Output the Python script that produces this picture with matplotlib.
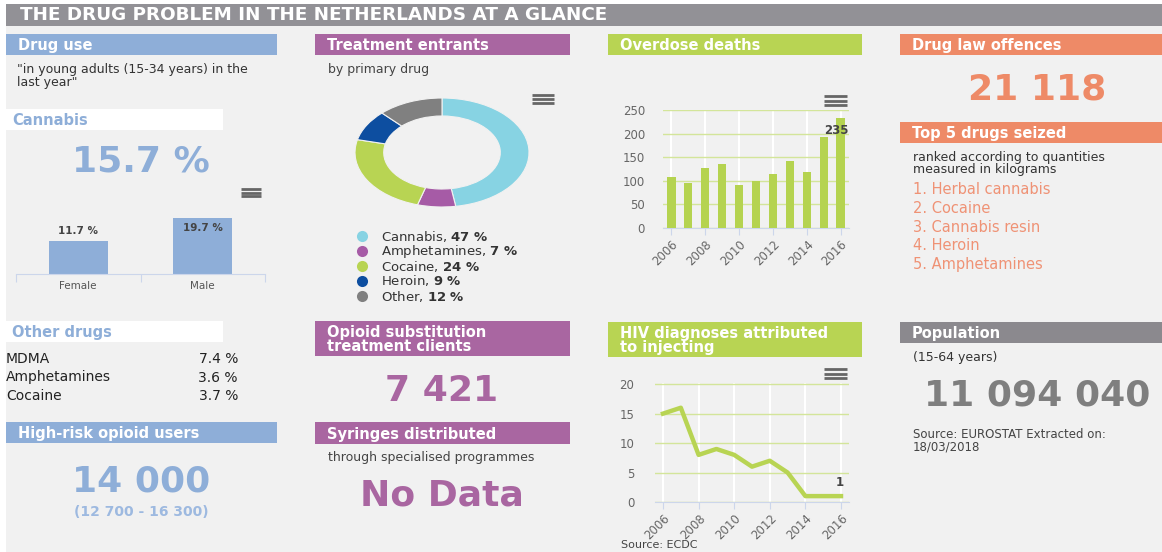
import numpy as np
import matplotlib
matplotlib.use("Agg")
import matplotlib.pyplot as plt
from matplotlib.patches import Rectangle

plt.rcParams['font.family'] = ['DejaVu Sans']

W, H = 1162, 552

title = "THE DRUG PROBLEM IN THE NETHERLANDS AT A GLANCE"
cannabis_total = "15.7 %"
gender_labels = ["Female", "Male"]
gender_values = [11.7, 19.7]
other_drugs = ["MDMA", "Amphetamines", "Cocaine"]
other_values = [7.4, 3.6, 3.7]
opioid_users = "14 000"
opioid_range = "(12 700 - 16 300)"
treat_labels = ["Cannabis", "Amphetamines", "Cocaine", "Heroin", "Other"]
treat_values = [47, 7, 24, 9, 12]
ost_clients = "7 421"
syringes = "No Data"
od_years = list(range(2006, 2017))
od_deaths = [109, 96, 127, 137, 92, 101, 115, 142, 120, 194, 235]
hiv_years = list(range(2006, 2017))
hiv_cases = [15, 16, 8, 9, 8, 6, 7, 5, 1, 1, 1]
law_offences = "21 118"
seized = ["Herbal cannabis", "Cocaine", "Cannabis resin", "Heroin", "Amphetamines"]
population = "11 094 040"

# colours
BG = '#f1f1f1'
BLUE = '#8eaed8'
PURPLE = '#a966a1'
GREEN = '#b8d453'
ORANGE = '#ee8a67'
GRAY = '#8b898e'
TITLE_GRAY = '#929196'
AXIS = '#ccd6eb'
TXT = '#444444'
treat_colors = ['#87d3e3', '#a65ba6', '#b8d453', '#0d4ea0', '#808080']

fig = plt.figure(figsize=(W / 100, H / 100), dpi=100)
fig.patch.set_facecolor(BG)

ax = fig.add_axes([0, 0, 1, 1])
ax.set_xlim(0, W)
ax.set_ylim(H, 0)
ax.axis('off')


def fig_rect(x0, y0, x1, y1):
    return [x0 / W, 1 - y1 / H, (x1 - x0) / W, (y1 - y0) / H]


def rect(x0, y0, x1, y1, color):
    ax.add_patch(Rectangle((x0, y0), x1 - x0, y1 - y0, color=color, lw=0))


def header(x0, y0, x1, y1, color, text):
    rect(x0, y0, x1, y1, color)
    ax.text(x0 + 12, (y0 + y1) / 2 + 1, text, color='white', weight='bold',
            size=10.5, va='center', ha='left', linespacing=0.95)


def subheader(x0, y0, x1, y1, text):
    rect(x0, y0, x1, y1, 'white')
    ax.text(x0 + 6, (y0 + y1) / 2 + 1, text, color=BLUE, weight='bold',
            size=10.5, va='center', ha='left')


def big(x, y, text, color):
    ax.text(x, y, text, color=color, weight='bold', size=26,
            ha='center', va='baseline')


def burger(x0, y0, x1, y1):
    for yy in np.linspace(y0 + 1, y1 - 1, 3):
        ax.plot([x0, x1], [yy, yy], color='#666666', lw=2, solid_capstyle='butt')


def style_axis(a):
    for s in ['top', 'right', 'left']:
        a.spines[s].set_visible(False)
    a.spines['bottom'].set_color(AXIS)
    a.patch.set_visible(False)


# frame + title bar
rect(0, 0, 6, H, 'white')
rect(0, 0, W, 4, 'white')
rect(6, 4, W, 26, TITLE_GRAY)
ax.text(20, 15.5, title, color='white', weight='bold', size=13.2, va='center')

# ---- column 1: drug use ----
header(6, 34, 277, 55, BLUE, "Drug use")
ax.text(17, 63, '"in young adults (15-34 years) in the\nlast year"', size=9,
        color='#333333', va='top', linespacing=1.0)
subheader(6, 109, 223, 130, "Cannabis")
big(141, 172, cannabis_total, BLUE)
burger(241, 188, 261, 197)

bx = fig.add_axes(fig_rect(16, 200, 265, 274))
style_axis(bx)
bx.bar(range(len(gender_values)), gender_values, width=0.47, color=BLUE)
bx.set_xlim(-0.5, 1.5)
bx.set_ylim(0, 26)
bx.set_yticks([])
bx.set_xticks([-0.5, 0.5, 1.5])
bx.set_xticklabels([])
bx.tick_params(axis='x', which='major', length=6, color=AXIS)
bx.set_xticks(range(len(gender_labels)), minor=True)
bx.set_xticklabels(gender_labels, minor=True)
bx.tick_params(axis='x', which='minor', length=0, pad=5, labelsize=7.5,
               labelcolor='#555555')
for i, v in enumerate(gender_values):
    dy = 7 if v < max(gender_values) else -7
    bx.annotate(f"{v} %", (i, v), xytext=(0, dy), textcoords='offset points',
                ha='center', va='center', weight='bold', size=7.5, color=TXT)

subheader(6, 321, 223, 342, "Other drugs")
for i, (name, val) in enumerate(zip(other_drugs, other_values)):
    y = 359 + i * 18.5
    ax.text(6, y, name, size=10, color='#222222', va='center')
    ax.text(238, y, f"{val} %", size=10, color='#222222', va='center', ha='right')

header(6, 422, 277, 443, BLUE, "High-risk opioid users")
big(141, 492, opioid_users, BLUE)
ax.text(141, 512, opioid_range, size=10, weight='bold', color='#9db9e0',
        ha='center', va='center')

# ---- column 2: treatment ----
header(315, 34, 570, 55, PURPLE, "Treatment entrants")
ax.text(328, 69, "by primary drug", size=9, color=TXT, va='center')
burger(532, 94, 554, 104)

dx = fig.add_axes(fig_rect(355, 98, 529, 207))
dx.pie(treat_values, colors=treat_colors, startangle=90, counterclock=False,
       radius=1, wedgeprops=dict(width=0.33, edgecolor=BG, linewidth=0.8))
dx.set_aspect('auto')
dx.set_xlim(-1, 1)
dx.set_ylim(-1, 1)

for i, (name, val, col) in enumerate(zip(treat_labels, treat_values, treat_colors)):
    y = 236 + i * 15
    ax.plot(362, y, 'o', ms=8, color=col, mec='none')
    ax.text(381, y, f"{name}, $\\mathbf{{{val}\\ \\%}}$", size=9.5,
            color='#333333', va='center')

header(315, 321, 570, 356, PURPLE, "Opioid substitution\ntreatment clients")
big(442, 401, ost_clients, PURPLE)
header(315, 422, 570, 444, PURPLE, "Syringes distributed")
ax.text(328, 457, "through specialised programmes", size=9, color=TXT, va='center')
big(442, 506, syringes, PURPLE)

# ---- column 3: overdose deaths + HIV ----
header(608, 34, 862, 55, GREEN, "Overdose deaths")
burger(824, 95, 847, 106)

ox = fig.add_axes(fig_rect(663, 110, 849, 228))
style_axis(ox)
ox.bar(od_years, od_deaths, width=0.48, color='#b5d350', zorder=3)
ox.set_xlim(2005.5, 2016.5)
ox.set_ylim(0, 251)
ox.set_yticks(range(0, 251, 50))
ox.set_xticks(range(2006, 2017, 2))
ox.grid(axis='y', color='#d3e59a', lw=1)
ox.grid(axis='x', color='white', lw=1.5)
ox.tick_params(axis='y', length=0, pad=13, labelsize=8.5, labelcolor='#666666')
ox.tick_params(axis='x', length=5, color=AXIS, labelsize=8.5,
               labelcolor='#666666', labelrotation=45, pad=2)
for lbl in ox.get_xticklabels():
    lbl.set_ha('right')
    lbl.set_rotation_mode('anchor')
ox.annotate(str(od_deaths[-1]), (od_years[-1], od_deaths[-1]), xytext=(-3, -9),
            textcoords='offset points', ha='center', va='center',
            weight='bold', size=8.5, color=TXT, zorder=5)

header(608, 322, 862, 357, GREEN, "HIV diagnoses attributed\nto injecting")
burger(824, 368, 847, 379)

hx = fig.add_axes(fig_rect(655, 383, 849, 502))
style_axis(hx)
hx.plot(hiv_years, hiv_cases, color=GREEN, lw=3.2, zorder=3)
hx.set_xlim(2005.55, 2016.45)
hx.set_ylim(0, 20.2)
hx.set_yticks(range(0, 21, 5))
hx.set_xticks(range(2006, 2017, 2))
hx.grid(axis='y', color='#d3e59a', lw=1)
hx.grid(axis='x', color='white', lw=1.5)
hx.tick_params(axis='y', length=0, pad=15, labelsize=8.5, labelcolor='#666666')
hx.tick_params(axis='x', length=5, color=AXIS, labelsize=8.5,
               labelcolor='#666666', labelrotation=45, pad=2)
for lbl in hx.get_xticklabels():
    lbl.set_ha('right')
    lbl.set_rotation_mode('anchor')
hx.annotate(str(hiv_cases[-1]), (hiv_years[-1], hiv_cases[-1]), xytext=(-1, 10),
            textcoords='offset points', ha='center', va='center',
            weight='bold', size=8.5, color=TXT)
ax.text(621, 540, "Source: ECDC", size=8, color=TXT, va='top')

# ---- column 4: offences, seizures, population ----
header(900, 34, W, 55, ORANGE, "Drug law offences")
big(1037, 100, law_offences, ORANGE)
header(900, 122, W, 143, ORANGE, "Top 5 drugs seized")
ax.text(913, 151, "ranked according to quantities\nmeasured in kilograms", size=9,
        color='#333333', va='top', linespacing=0.95)
for i, name in enumerate(seized):
    ax.text(913, 190 + i * 18.5, f"{i + 1}. {name}", size=10.5,
            color='#ef9275', va='center')

header(900, 322, W, 343, GRAY, "Population")
ax.text(913, 357, "(15-64 years)", size=9, color='#333333', va='center')
big(1037, 406, population, '#7f7f7f')
ax.text(913, 428, "Source: EUROSTAT Extracted on:\n18/03/2018", size=8.5,
        color=TXT, va='top', linespacing=0.95)

fig.savefig("out.png", dpi=100, facecolor=BG)
